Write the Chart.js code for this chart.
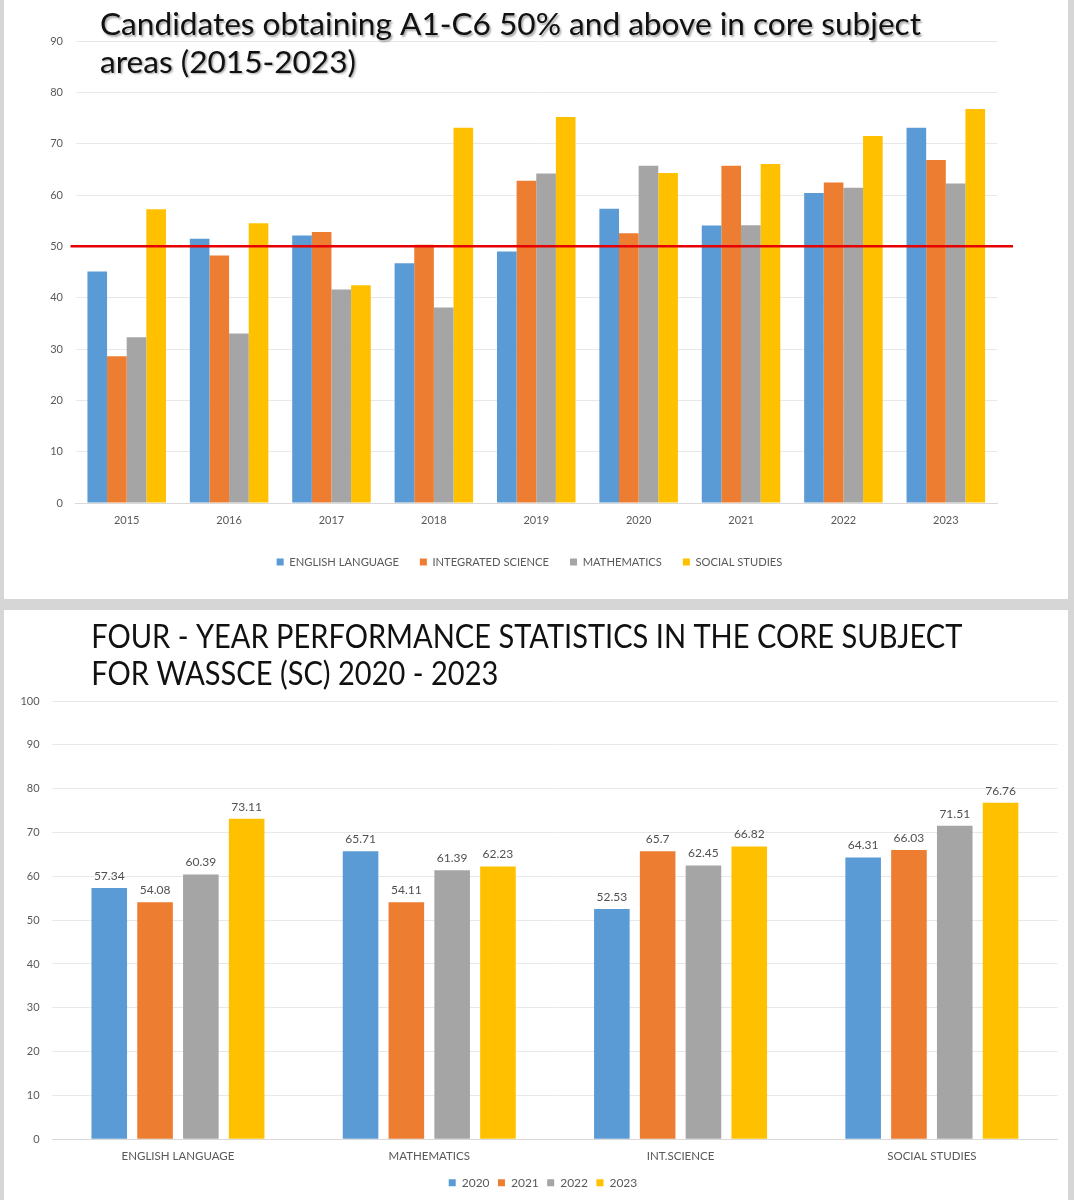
<!DOCTYPE html>
<html>
<head>
<meta charset="utf-8">
<script src="https://cdn.jsdelivr.net/npm/chart.js@4.4.1/dist/chart.umd.min.js"></script>
<style>
  html, body { margin: 0; padding: 0; background: #d6d6d6; }
  body { width: 1074px; height: 1200px; position: relative; overflow: hidden; }
  .panel { position: absolute; left: 4px; width: 1064px; background: #ffffff; }
  #p1 { top: 0; height: 599px; }
  #p2 { top: 610px; height: 590px; }
  canvas { display: block; }
</style>
</head>
<body>
<div class="panel" id="p1"><canvas id="c1" width="1064" height="599"></canvas></div>
<div class="panel" id="p2"><canvas id="c2" width="1064" height="590"></canvas></div>
<script>
// ---------- DATA: chart 1 (2015-2023 by subject) ----------
const years = ['2015', '2016', '2017', '2018', '2019', '2020', '2021', '2022', '2023'];
const englishLanguage   = [45.1, 51.5, 52.1, 46.7, 49.0, 57.34, 54.08, 60.39, 73.11];
const integratedScience = [28.6, 48.2, 52.8, 50.3, 62.8, 52.53, 65.7, 62.45, 66.82];
const mathematics       = [32.3, 33.0, 41.6, 38.1, 64.2, 65.71, 54.11, 61.39, 62.23];
const socialStudies     = [57.2, 54.5, 42.4, 73.1, 75.2, 64.31, 66.03, 71.51, 76.76];
const threshold = 50;
const title1Lines = ['Candidates obtaining A1-C6 50% and above in core subject', 'areas (2015-2023)'];

// ---------- DATA: chart 2 (2020-2023 by subject) ----------
const subjects = ['ENGLISH LANGUAGE', 'MATHEMATICS', 'INT.SCIENCE', 'SOCIAL STUDIES'];
const y2020 = [57.34, 65.71, 52.53, 64.31];
const y2021 = [54.08, 54.11, 65.7, 66.03];
const y2022 = [60.39, 61.39, 62.45, 71.51];
const y2023 = [73.11, 62.23, 66.82, 76.76];
const title2Lines = ['FOUR - YEAR PERFORMANCE STATISTICS IN THE CORE SUBJECT', 'FOR WASSCE (SC) 2020 - 2023'];

// ---------- STYLE ----------
const FONT = 'Lato, "Open Sans", "DejaVu Sans", sans-serif';
const C_BLUE = '#5B9BD5', C_ORANGE = '#ED7D31', C_GRAY = '#A5A5A5', C_GOLD = '#FFC000';
const TXT = '#595959';
const GRID = '#e8e8e8';
const AXIS = '#d9d9d9';

const overlayTitle = {
  id: 'overlayTitle',
  afterDraw(chart, args, o) {
    const ctx = chart.ctx;
    ctx.save();
    ctx.font = o.size + 'px ' + FONT;
    ctx.textAlign = 'left';
    ctx.textBaseline = 'alphabetic';
    ctx.fillStyle = o.color;
    const w = ctx.measureText(o.lines[0]).width;
    const sx = o.width / w;
    if (o.shadow) {
      ctx.shadowColor = 'rgba(0,0,0,0.35)';
      ctx.shadowOffsetX = 1.5;
      ctx.shadowOffsetY = 1.5;
      ctx.shadowBlur = 2;
    }
    ctx.translate(o.x, 0);
    ctx.scale(sx, 1);
    o.lines.forEach((line, i) => ctx.fillText(line, 0, o.baselines[i]));
    ctx.restore();
  }
};

const thresholdLine = {
  id: 'thresholdLine',
  afterDatasetsDraw(chart, args, o) {
    const ctx = chart.ctx;
    const y = chart.scales.y.getPixelForValue(o.value);
    const { left, right } = chart.chartArea;
    ctx.save();
    ctx.strokeStyle = o.color;
    ctx.lineWidth = o.lineWidth;
    ctx.beginPath();
    ctx.moveTo(left - o.extendLeft, y);
    ctx.lineTo(right + o.extendRight, y);
    ctx.stroke();
    ctx.restore();
  }
};

const barValues = {
  id: 'barValues',
  afterDatasetsDraw(chart, args, o) {
    const ctx = chart.ctx;
    ctx.save();
    ctx.font = o.size + 'px ' + FONT;
    ctx.fillStyle = o.color;
    ctx.textAlign = 'center';
    ctx.textBaseline = 'middle';
    chart.data.datasets.forEach((ds, di) => {
      const meta = chart.getDatasetMeta(di);
      meta.data.forEach((el, i) => {
        ctx.fillText(String(ds.data[i]), el.x, el.y - o.offset);
      });
    });
    ctx.restore();
  }
};

function ds(label, data, color) {
  return { label, data, backgroundColor: color, borderColor: color, borderWidth: 0 };
}

function spacerAxis(w) {
  return {
    type: 'linear', position: 'right', display: true,
    grid: { display: false, drawTicks: false },
    border: { display: false },
    ticks: { display: false },
    afterFit(scale) { scale.width = w; }
  };
}

// ---------- CHART 1 ----------
new Chart(document.getElementById('c1'), {
  type: 'bar',
  data: {
    labels: years,
    datasets: [
      ds('ENGLISH LANGUAGE', englishLanguage, C_BLUE),
      ds('INTEGRATED SCIENCE', integratedScience, C_ORANGE),
      ds('MATHEMATICS', mathematics, C_GRAY),
      ds('SOCIAL STUDIES', socialStudies, C_GOLD)
    ]
  },
  options: {
    responsive: false,
    animation: false,
    devicePixelRatio: 1,
    events: [],
    layout: { padding: { left: 20, right: 33, top: 41, bottom: 21.5 } },
    datasets: { bar: { categoryPercentage: 0.767, barPercentage: 1.0 } },
    scales: {
      x: {
        grid: { display: false, drawTicks: false },
        border: { display: true, color: AXIS, width: 1 },
        ticks: { color: TXT, font: { family: FONT, size: 11 }, padding: 11, maxRotation: 0 },
        afterFit(scale) { scale.height = 32.3; }
      },
      y: {
        min: 0, max: 90,
        grid: { color: GRID, drawTicks: false },
        border: { display: false },
        ticks: { stepSize: 10, color: TXT, font: { family: FONT, size: 11 }, padding: 12.5 },
        afterFit(scale) { scale.width = 51.5; }
      },
      ySpacer: spacerAxis(38)
    },
    plugins: {
      legend: {
        position: 'bottom',
        labels: { color: TXT, font: { family: FONT, size: 11.2 }, boxWidth: 7, boxHeight: 7, padding: 21 }
      },
      title: { display: false },
      tooltip: { enabled: false },
      thresholdLine: { value: threshold, color: '#e60000', lineWidth: 2.5, extendLeft: 5, extendRight: 16 },
      overlayTitle: { lines: title1Lines, x: 96, baselines: [35, 72.7], size: 31, width: 821, color: '#111111', shadow: true }
    }
  },
  plugins: [thresholdLine, overlayTitle]
});

// ---------- CHART 2 ----------
new Chart(document.getElementById('c2'), {
  type: 'bar',
  data: {
    labels: subjects,
    datasets: [
      ds('2020', y2020, C_BLUE),
      ds('2021', y2021, C_ORANGE),
      ds('2022', y2022, C_GRAY),
      ds('2023', y2023, C_GOLD)
    ]
  },
  options: {
    responsive: false,
    animation: false,
    devicePixelRatio: 1,
    events: [],
    layout: { padding: { left: 14, right: 0, top: 91, bottom: 1.3 } },
    datasets: { bar: { categoryPercentage: 0.729, barPercentage: 0.777 } },
    scales: {
      x: {
        grid: { display: false, drawTicks: false },
        border: { display: true, color: AXIS, width: 1 },
        ticks: { color: TXT, font: { family: FONT, size: 11.5 }, padding: 10.5, maxRotation: 0 },
        afterFit(scale) { scale.height = 29; }
      },
      y: {
        min: 0, max: 100,
        grid: { color: GRID, drawTicks: false },
        border: { display: false },
        ticks: { stepSize: 10, color: TXT, font: { family: FONT, size: 11 }, padding: 12.7 },
        afterFit(scale) { scale.width = 34.3; }
      },
      ySpacer: spacerAxis(10.5)
    },
    plugins: {
      legend: {
        position: 'bottom',
        labels: { color: TXT, font: { family: FONT, size: 12 }, boxWidth: 7, boxHeight: 7, padding: 8.4 }
      },
      title: { display: false },
      tooltip: { enabled: false },
      barValues: { size: 12, color: '#505050', offset: 12 },
      overlayTitle: { lines: title2Lines, x: 87.3, baselines: [38, 75], size: 33, width: 871, color: '#111111', shadow: false }
    }
  },
  plugins: [barValues, overlayTitle]
});
</script>
</body>
</html>
